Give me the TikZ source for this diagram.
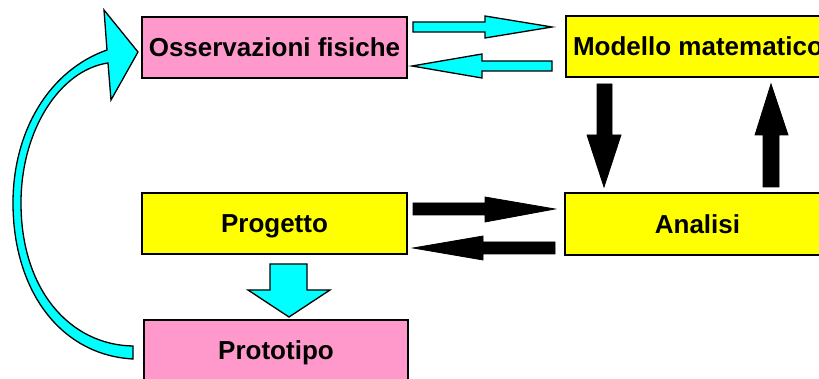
\documentclass[tikz,border=0pt]{standalone}
\usepackage{fontspec}
\setmainfont{Liberation Sans}
\definecolor{pinkbox}{HTML}{FF99CC}
\definecolor{yellowbox}{HTML}{FFFF00}
\definecolor{cyanarrow}{HTML}{00FFFF}
\begin{document}
\begin{tikzpicture}[x=1pt,y=-1pt,
  box/.style={draw=black, line width=1.3pt, inner sep=0pt, minimum width=265pt, minimum height=61pt,
    text height=18.6pt, text depth=0pt,
    font=\fontsize{26}{30}\selectfont\bfseries},
  pinkb/.style={box, fill=pinkbox},
  yellowb/.style={box, fill=yellowbox},
  cyanarr/.style={draw=black, line width=1.3pt, fill=cyanarrow, line join=miter},
  blackarr/.style={draw=black, line width=0.8pt, fill=black, line join=miter}]
\clip (0,0) rectangle (819,379);
\fill[white] (0,0) rectangle (819,379);

\node[pinkb]   (oss)  at (274.5,47.5) {Osservazioni fisiche};
\node[yellowb, minimum width=264pt] (mod)  at (698,46.5) {Modello matematico};
\node[yellowb] (prog) at (274.5,223.5) {Progetto};
\node[yellowb, minimum height=62pt] (ana)  at (697.5,224) {Analisi};
\node[pinkb, minimum width=264pt]   (proto) at (276,350.5) {Prototipo};

% cyan arrows between Osservazioni and Modello
\draw[cyanarr] (413,22) -- (485,22) -- (485,16) -- (552,27) -- (485,38) -- (485,32) -- (413,32) -- cycle;
\draw[cyanarr] (552,61) -- (482,61) -- (482,54) -- (412,66) -- (482,78) -- (482,71) -- (552,71) -- cycle;

% black arrows between Progetto and Analisi
\draw[blackarr] (413,203) -- (485,203) -- (485,197) -- (555,209) -- (485,222) -- (485,215) -- (413,215) -- cycle;
\draw[blackarr] (555,242) -- (483,242) -- (483,236) -- (413,248) -- (483,260) -- (483,254) -- (555,254) -- cycle;

% black vertical arrows between Modello and Analisi
\draw[blackarr] (597,84) -- (612,84) -- (612,135) -- (621,135) -- (604,187) -- (587,135) -- (597,135) -- cycle;
\draw[blackarr] (763,187) -- (779,187) -- (779,135) -- (788,135) -- (771,84) -- (755,135) -- (763,135) -- cycle;

% cyan down arrow Progetto -> Prototipo
\draw[cyanarr] (270,264) -- (307,264) -- (307,290) -- (330,290) -- (289,317) -- (248,290) -- (270,290) -- cycle;

% curved cyan arrow Prototipo -> Osservazioni
\draw[cyanarr]
  (133,346) .. controls (70,345) and (21,290) .. (21,203)
  .. controls (21,130) and (60,70) .. (108,63)
  -- (111,100) -- (138,52) -- (104,10) -- (107,50)
  .. controls (50,70) and (13,130) .. (13,203)
  .. controls (13,290) and (60,355) .. (133,359)
  -- cycle;
\end{tikzpicture}
\end{document}
